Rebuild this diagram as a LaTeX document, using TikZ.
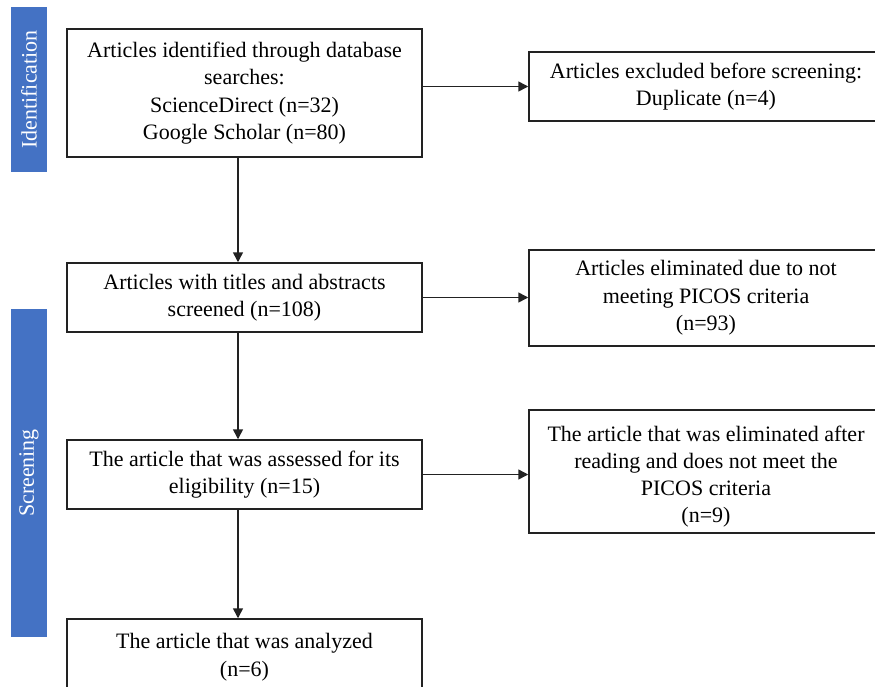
\documentclass[tikz,border=0pt]{standalone}
\usepackage{fontspec}
\setmainfont{Liberation Serif}
\usetikzlibrary{arrows.meta,calc}
\definecolor{barblue}{HTML}{4472C4}
\definecolor{linegray}{HTML}{222222}
\begin{document}
\begin{tikzpicture}[x=1pt,y=-1pt,
  box/.style={draw=linegray,line width=1.5pt,fill=white,align=center,inner sep=0pt,
    font=\fontsize{22}{27.5}\selectfont},
  boxtext/.style={align=center,inner sep=0pt,font=\fontsize{22}{27}\selectfont},
  bar/.style={fill=barblue,rotate=90,text=white,inner sep=0pt,
    font=\fontsize{22}{26}\selectfont},
  conn/.style={draw=linegray,line width=1.5pt,-{Triangle[length=10pt,width=10pt]}}]
\useasboundingbox (0,0) rectangle (875,686);
\begin{scope}
\clip (0,0) rectangle (875,686);
% phase bars
\node[bar,minimum width=165,minimum height=36] (idbar) at (29,89.5) {Identification};
\node[bar,minimum width=328,minimum height=36] (scbar) at (29,473) {Screening};
% left column
\node[box,minimum width=355,minimum height=128] (b1) at (244.5,93)
  {Articles identified through database\\searches:\\ScienceDirect (n=32)\\Google Scholar (n=80)};
\node[box,minimum width=355,minimum height=69] (b2) at (244.5,297.5)
  {Articles with titles and abstracts\\screened (n=108)};
\node[box,minimum width=355,minimum height=69] (b3) at (244.5,474.5)
  {The article that was assessed for its\\eligibility (n=15)};
\node[box,minimum width=355,minimum height=76] (b4) at (244.5,657)
  {The article that was analyzed\\(n=6)};
% right column
\node[box,minimum width=354,minimum height=69] (r1) at (706,86.5)
  {Articles excluded before screening:\\Duplicate (n=4)};
\node[box,minimum width=354,minimum height=96] (r2) at (706,298)
  {Articles eliminated due to not\\meeting PICOS criteria\\(n=93)};
\node[box,minimum width=354,minimum height=123] (r3) at (706,471.5) {};
\node[boxtext] (r3t) at (706,477)
  {The article that was eliminated after\\reading and does not meet the\\PICOS criteria\\(n=9)};
% small mark at top-left of first box
\coordinate (tickA) at ($(b1.north west)+(1,1)$);
\coordinate (tickB) at ($(b1.north west)+(1,22)$);
\draw[linegray,line width=2.4pt] (tickA) -- (tickB);
% connectors
\coordinate (ax) at (238,0);
\draw[conn] (b1.south -| ax) -- (b2.north -| ax);
\draw[conn] (b2.south -| ax) -- (b3.north -| ax);
\draw[conn] (b3.south -| ax) -- (b4.north -| ax);
\draw[conn] (b1.east |- r1.west) -- (r1.west);
\draw[conn] (b2.east) -- (b2.east -| r2.west);
\draw[conn] (b3.east) -- (b3.east -| r3.west);
\end{scope}
\end{tikzpicture}
\end{document}
